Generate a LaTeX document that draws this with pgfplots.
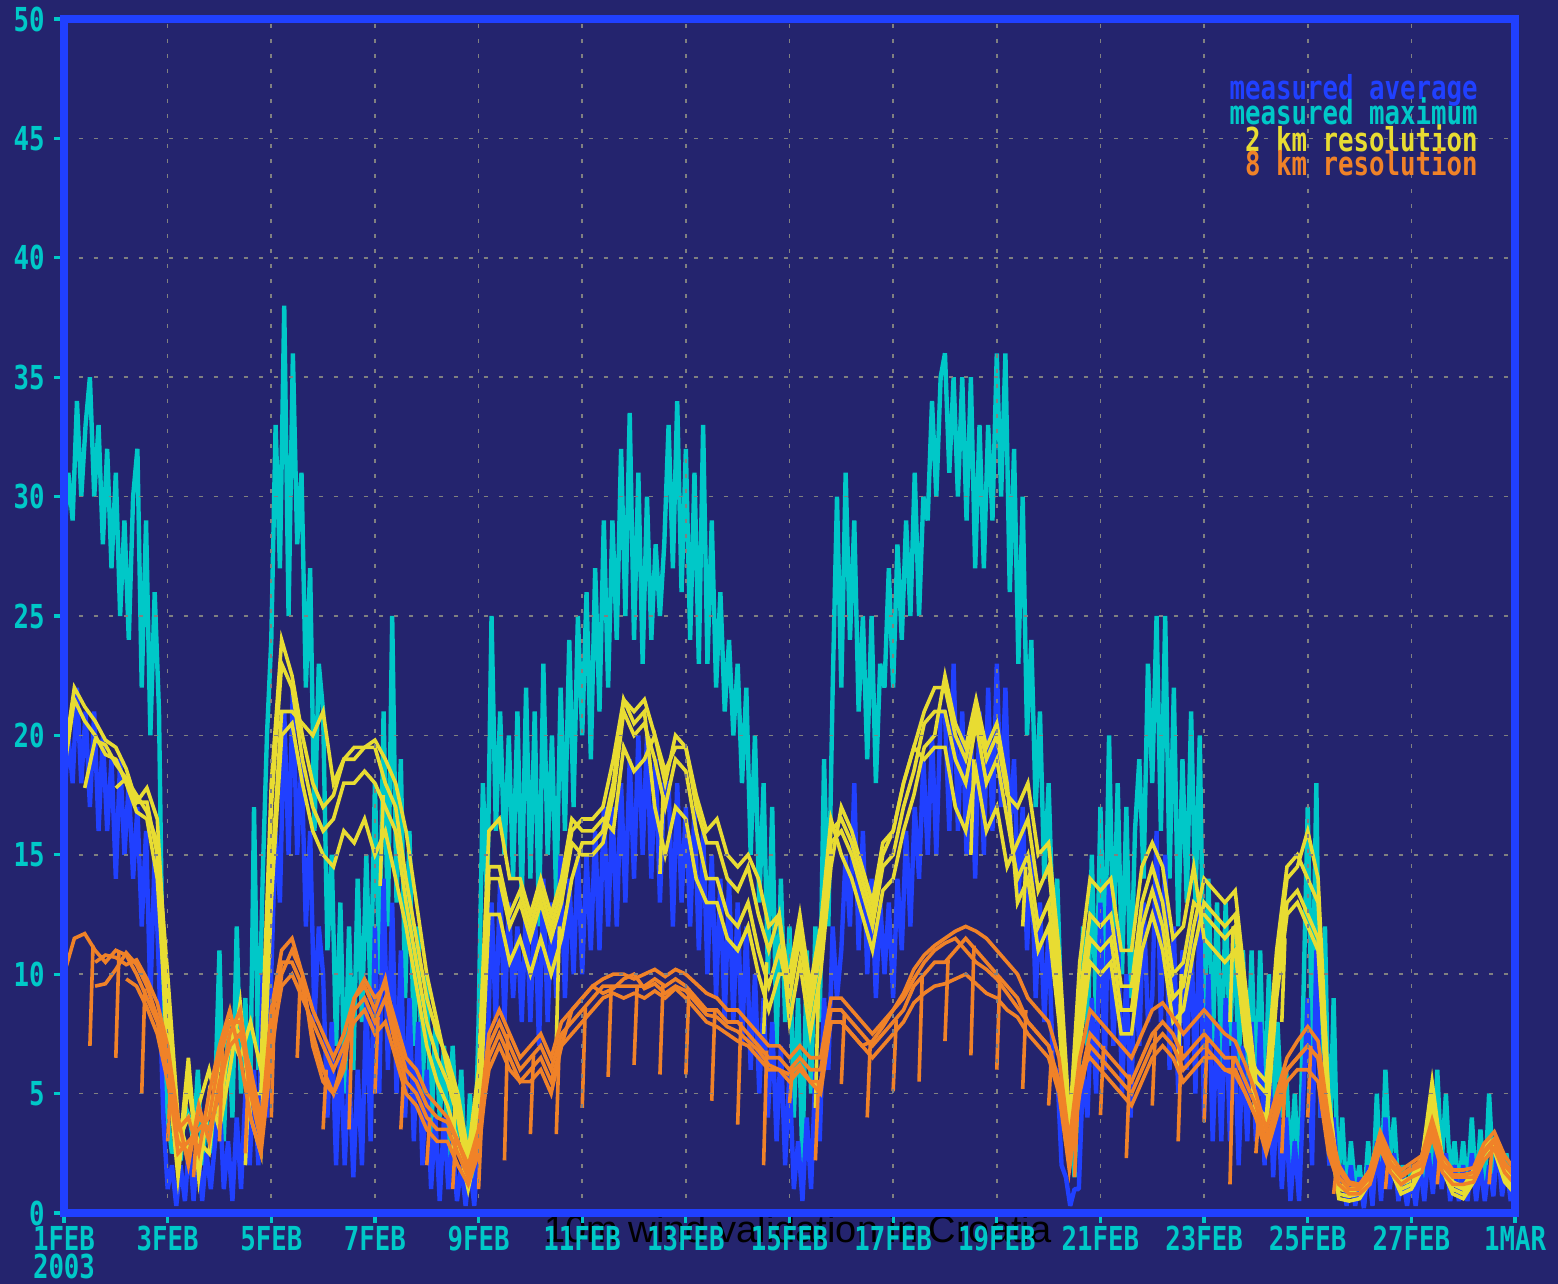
\documentclass[border=0pt]{standalone}
\usepackage{fontspec}
\usepackage{pgfplots}
\usepackage{pgfplotstable}
\pgfplotsset{compat=1.18}
\setmainfont{Liberation Sans}
\newfontfamily\pix{DejaVu Sans Mono}[FakeStretch=0.78]
\newcommand\pixf{\pix\bfseries\fontsize{16.5}{14}\selectfont}
\definecolor{bg}{HTML}{24246E}
\definecolor{fblue}{HTML}{2040FF}
\definecolor{cyn}{HTML}{00C8C8}
\definecolor{ylw}{HTML}{E8DC32}
\definecolor{org}{HTML}{F08228}
\definecolor{gridgray}{HTML}{808080}

% measured maximum (c) and measured average (b), every 2 hours from 1 FEB 00h
\pgfplotstableread[row sep=\\]{
c b\\
28 17\\ 31 20\\ 29 18\\ 34 22\\ 30 18\\ 33 21\\ 35 17\\ 30 21\\ 33 16\\ 28 20\\ 32 16\\ 27 19\\
31 14\\ 25 19\\ 29 15\\ 24 18\\ 30 14\\ 32 17\\ 22 12\\ 29 16\\ 20 9\\ 26 15\\ 21 10\\ 8 4\\
4 1\\ 2.5 2\\ 3 0.3\\ 2.2 2\\ 4.5 0.5\\ 4 3\\ 3 0.5\\ 6 3\\ 2 0.5\\ 4 2.5\\ 2.5 1\\ 5 3\\
11 5\\ 3 1\\ 8 3\\ 4 0.5\\ 12 4\\ 5 1\\ 9 5\\ 3 2\\ 17 6\\ 6 2\\ 14 10\\ 20 4\\
24 10\\ 33 16\\ 27 13\\ 38 21\\ 25 15\\ 36 22\\ 28 15\\ 31 19\\ 22 12\\ 27 16\\ 16 8\\ 23 12\\
21 10\\ 11 4\\ 15 8\\ 7 2\\ 13 7\\ 5 2\\ 12 6\\ 6 1.5\\ 14 6\\ 8 2\\ 15 9\\ 9 3\\
18 12\\ 10 5\\ 21 14\\ 12 6\\ 25 13\\ 13 5\\ 19 11\\ 9 4\\ 16 9\\ 7 3\\ 12 8\\ 5 2\\
10 6\\ 3 1\\ 8 4\\ 4 0.5\\ 7 4\\ 2 1\\ 7 3\\ 3 0.5\\ 6 2\\ 1 0.3\\ 5 2\\ 1 0.3\\
8 3\\ 18 8\\ 13 6\\ 25 13\\ 16 8\\ 21 14\\ 15 8\\ 20 13\\ 14 9\\ 21 12\\ 13 8\\ 22 13\\
14 8\\ 21 13\\ 12 7\\ 23 14\\ 15 8\\ 20 13\\ 13 9\\ 22 15\\ 16 9\\ 24 14\\ 17 10\\ 25 15\\
20 10\\ 26 15\\ 19 11\\ 27 16\\ 21 11\\ 29 17\\ 22 12\\ 29 17\\ 24 12\\ 32 18\\ 25 13\\ 33.5 19\\
24 14\\ 31 20\\ 23 15\\ 30 20\\ 24 14\\ 28 19\\ 25 13\\ 28 18\\ 33 18\\ 27 12\\ 34 18\\ 26 13\\
32 17\\ 24 12\\ 31 17\\ 23 11\\ 33 16\\ 23 10\\ 29 15\\ 22 9\\ 26 14\\ 21 8\\ 24 14\\ 20 8\\
23 13\\ 18 7\\ 22 12\\ 15 6\\ 20 10\\ 13 5\\ 18 9\\ 10 4\\ 17 8\\ 7 3\\ 14 7\\ 8 2\\
12 6\\ 4 1\\ 9 3\\ 2 0.5\\ 11 4\\ 5 1\\ 12 6\\ 8 3\\ 19 9\\ 12 6\\ 22 12\\ 30 9\\
22 11\\ 31 15\\ 24 12\\ 29 18\\ 21 11\\ 25 16\\ 19 10\\ 25 14\\ 18 9\\ 23 13\\ 22 10\\ 27 13\\
22 9\\ 28 14\\ 24 11\\ 29 16\\ 25 12\\ 31 17\\ 25 14\\ 30 19\\ 29 15\\ 34 20\\ 30 15\\ 35 21\\
36 21\\ 31 16\\ 35 23\\ 30 16\\ 35 21\\ 29 15\\ 35 20\\ 27 14\\ 33 21\\ 27 15\\ 33 22\\ 29 16\\
36 23\\ 30 17\\ 36 22\\ 26 16\\ 32 19\\ 23 13\\ 30 17\\ 20 11\\ 24 15\\ 17 9\\ 21 13\\ 14 8\\
18 12\\ 12 6\\ 14 6\\ 8 2\\ 3 1.5\\ 4 0.3\\ 1.5 1\\ 6 1\\ 12 6\\ 7 4\\ 15 9\\ 8 5\\
17 13\\ 10 6\\ 20 14\\ 11 7\\ 18 12\\ 10 5\\ 17 10\\ 9 4\\ 16 10\\ 19 7\\ 14 13\\ 23 8\\
18 9\\ 25 16\\ 16 8\\ 25 15\\ 14 6\\ 22 12\\ 12 5\\ 19 11\\ 13 6\\ 21 12\\ 13 5\\ 20 13\\
8 4\\ 14 10\\ 7 3\\ 13 8\\ 6 3\\ 13 9\\ 7 3\\ 12 8\\ 6 2\\ 11 7\\ 5 3\\ 11 8\\
5 3\\ 11 8\\ 4 2\\ 10 7\\ 3 1.5\\ 8 5\\ 4 1\\ 6 4\\ 2 0.5\\ 5 3\\ 1 0.5\\ 9 5\\
17 9\\ 7 2\\ 18 11\\ 4 4\\ 12 7\\ 2 2\\ 9 4\\ 1 1\\ 4 2\\ 0.5 0.3\\ 3 2\\ 1 0.3\\
2 1.5\\ 0.3 0.2\\ 3 2\\ 0.5 0.3\\ 5 3\\ 1 0.5\\ 6 4\\ 2 1\\ 4 2.5\\ 1 0.5\\ 2 1.5\\ 0.5 0.3\\
2 1.5\\ 0.5 0.3\\ 2 2\\ 1 0.5\\ 4 2.5\\ 1 0.8\\ 6 3.5\\ 2 1\\ 5 2.5\\ 1.5 0.5\\ 3 2\\ 1 0.5\\
3 2\\ 1 0.5\\ 4 2.5\\ 1 0.5\\ 3.5 2\\ 1 0.5\\ 5 2\\ 1.5 0.7\\ 3 3\\ 1 0.7\\ 2.5 2\\ 1 0.5\\
2 1.5\\
}\tabCB

% 2 km model runs
\pgfplotstableread{
t y1 y2 y3 y4
0.0 19 nan 18.5 nan
0.2 22 nan 21.5 nan
0.4 21.2 17.8 20.6 nan
0.6 20.6 19.8 20 nan
0.8 19.8 19.6 19.2 nan
1.0 19.5 18.8 19 17.8
1.2 18.6 18.2 18 18.2
1.4 17.2 17.2 16.8 17.5
1.6 17.2 17.8 16.5 16.8
1.8 15 16.5 14 15.5
2.0 6 9 7 10
2.2 1.5 3 2 4
2.4 5.5 4 6.5 2.5
2.6 2 3 1.5 4.5
2.8 4.5 2.5 5 6
3.0 5 6.5 3.5 4
3.2 7 8 6 7.5
3.4 8.5 7.5 8.8 6.5
3.6 5 6 4 8
3.8 5 3 2.5 6
4.0 17 14 13 18
4.2 23 21 20 24
4.4 22 21 20.5 22.5
4.6 19 20.5 18 20
4.8 17 20 16 18
5.0 16 21 15 17
5.2 16.5 18 14.5 17.5
5.4 18 19 16 19
5.6 18 19.5 15.5 19
5.8 18.5 19.5 16.5 19.5
6.0 18 19.5 15 19.8
6.2 17 18 16 19
6.4 16 17 14 18
6.6 13 14 12 16
6.8 10.5 11.5 9.5 13
7.0 8 9 7 10
7.2 6.5 7.5 5.5 8
7.4 5.5 6.5 4.5 6
7.6 4 5 3 4.5
7.8 1.5 2.5 1 2
8.0 4 6 3 5
8.2 14 16 12.5 14.5
8.4 14 16.5 12.5 14.5
8.6 12 14 10.5 12.5
8.8 13 14 11.5 13.5
9.0 11.5 12.5 10 12
9.2 13 14 11.5 13.5
9.4 11.5 12.5 10 12
9.6 13 14 11.5 13.5
9.8 15.5 16.5 14 16
10.0 15 16 15.5 16.5
10.2 15 16 15.5 16.5
10.4 15.5 16.5 16 17
10.6 17.5 16 18 19
10.8 21 19.5 21.5 21.5
11.0 20 18.5 20.5 21
11.2 20.5 19 21 21.5
11.4 19 20 17 20
11.6 17 18 15 18.5
11.8 19 20 17 19.5
12.0 18.5 19.5 16.5 19.5
12.2 16 17 14 17.5
12.4 14 15.5 13 16
12.6 14 15.5 13 16.5
12.8 12.5 14 11.5 15
13.0 12 13.5 11 14.5
13.2 13 14.5 12 15
13.4 11 12.5 10 14
13.6 9.5 11 8.5 12
13.8 11 12.5 10 12.5
14.0 9 8 10 9.5
14.2 11.5 10.5 12.5 12
14.4 8.5 7.5 9.5 9
14.6 11 10 12 11.5
14.8 15.5 14.5 16.5 16
15.0 16 17 15 16.5
15.2 15 16 14 15.5
15.4 13.5 14.5 12.5 14
15.6 12 13 11 12.5
15.8 14.5 15.5 13.5 15
16.0 15 16 14 16
16.2 17 18 16 18
16.4 18.5 19.5 17.5 19.5
16.6 20.5 19 19.5 21
16.8 21 19.5 20 22
17.0 21 19.5 22.5 22
17.2 19 17 20.5 20
17.4 18 16 19.5 19
17.6 20.5 18.5 21.5 21
17.8 18 16 19.5 19
18.0 19 17 20.5 20
18.2 16.5 14.5 18 17.5
18.4 14 15.5 13 17
18.6 15 16.5 14 18
18.8 12 13.5 11 15
19.0 13 14.5 12 15.5
19.2 9 10 8 11
19.4 2.5 3.5 2 4
19.6 9 10.5 7 8
19.8 12.5 14 10.5 11.5
20.0 12 13.5 10 11
20.2 12.5 14 10.5 11.5
20.4 9.5 11 7.5 8.5
20.6 9.5 11 7.5 8.5
20.8 13 14.5 11 12
21.0 14.5 15.5 12.5 13.5
21.2 13 14.5 11 12
21.4 10 11.5 8 9
21.6 10.5 12 8.5 9.5
21.8 13 14.5 11 12
22.0 12.5 11.5 13 14
22.2 12 11 12.5 13.5
22.4 11.5 10.5 12 13
22.6 12 11 12.5 13.5
22.8 8 7 8.5 9.5
23.0 4 6 4.5 5.5
23.2 3.5 5.5 4 5
23.4 9 11 9.5 10.5
23.6 12.5 14.5 13 14
23.8 13 15 13.5 14.5
24.0 12 14 12.5 16
24.2 11 13 11.5 14
24.4 4 5 3.5 5
24.6 0.8 1.2 0.6 1
24.8 0.7 1 0.5 0.9
25.0 0.8 1.1 0.6 1
25.2 1.5 1.8 1.3 1.7
25.4 3 3.3 2.8 3.2
25.6 2 2.3 1.8 2.2
25.8 1 1.3 0.8 1.2
26.0 1.2 1.5 1 1.4
26.2 2 2.3 1.8 2.2
26.4 4.5 4.8 4.3 5.5
26.6 2 2.3 1.8 2.2
26.8 1 1.3 0.8 1.2
27.0 0.8 1.1 0.6 1
27.2 1.5 1.8 1.3 1.7
27.4 2.5 2.8 2.3 2.7
27.6 2.8 3.1 2.6 3
27.8 1.5 1.8 1.3 1.7
28.0 1 1.3 0.8 1.2
}\tabY

% 8 km model runs
\pgfplotstableread{
t o1 o2 o3 o4
0.0 10 nan nan nan
0.2 11.5 nan nan nan
0.4 11.7 nan nan nan
0.6 11 10.5 9.5 nan
0.8 10.5 10.8 9.6 nan
1.0 11 10.7 10.2 nan
1.2 10.8 10.4 10.9 9.8
1.4 10 10.6 10.4 9.5
1.6 9 9.8 9.5 8.6
1.8 8 8.8 8.2 7.5
2.0 6 7 6.5 5.5
2.2 2.5 4 3.5 3
2.4 3 2 4 2.5
2.6 3.5 4.5 2.5 4
2.8 4 3 5 3.5
3.0 6.5 5.5 7 5
3.2 8 7 8.5 7.5
3.4 8 7.5 6.5 8.5
3.6 5 6 4 5.5
3.8 3 4 2.5 3.5
4.0 8 7 6.5 8.5
4.2 10.5 9.5 10 11
4.4 10.5 10 11 11.5
4.6 9.5 9 10 10
4.8 7.5 8 8.5 7
5.0 6 7 7.5 5.5
5.2 5 6 6.5 5
5.4 6.5 7 7.5 6
5.6 8.5 8 9 9
5.8 9 8.5 9.8 9.5
6.0 8 7.5 9 8.5
6.2 9 8 9.5 9.8
6.4 7 6.5 8 7.5
6.6 5.5 5 6.5 6
6.8 5 4.5 6 5.5
7.0 4 3.5 5 4.5
7.2 3.5 3 4.5 4
7.4 3.5 3 4 3.8
7.6 2.5 2 3 3
7.8 1.5 1.2 2 1.8
8.0 3 2.5 3.5 3.2
8.2 7 6.5 7.5 6
8.4 8 7.5 8.5 7
8.6 7 6.5 7.5 6
8.8 6 5.5 6.5 5.5
9.0 6.5 6 7 5.5
9.2 7 6.5 7.5 6
9.4 6 5.5 6.5 5
9.6 7.5 7 8 7
9.8 8 7.5 8.5 8.5
10.0 8.5 8 9 9
10.2 9 8.5 9.5 9.5
10.4 9.5 9 9.8 9.2
10.6 9.5 9.2 10 9.4
10.8 9.5 9 10 9.8
11.0 9.5 9.2 9.8 10
11.2 9.5 9 10 9.4
11.4 9.8 9.3 10.2 9.6
11.6 9.5 9 9.9 9.2
11.8 9.8 9.4 10.2 9.5
12.0 9.5 9 10 9.3
12.2 9 8.5 9.6 8.8
12.4 8.5 8 9.2 8.3
12.6 8.5 7.8 9 8.2
12.8 8 7.5 8.5 7.8
13.0 8 7.2 8.5 7.6
13.2 7.5 7 8 7.2
13.4 7 6.5 7.5 6.8
13.6 6.5 6 7 6.2
13.8 6.5 6 7 6
14.0 6 5.5 6.5 5.8
14.2 6.5 6 7 6.2
14.4 6 5.5 6.5 5.5
14.6 6 5 6.5 5.5
14.8 8.5 8 9 8
15.0 8.5 8 9 8
15.2 8 7.5 8.5 7.5
15.4 7.5 7 8 7
15.6 7 6.5 7.5 7.2
15.8 7.5 7 8 7.8
16.0 8 7.5 8.5 8.5
16.2 8.5 8 9.2 9
16.4 9.5 8.8 10.2 9.8
16.6 10 9.2 10.8 10.5
16.8 10.5 9.5 11.2 11
17.0 10.5 9.6 11.5 11.3
17.2 11 9.8 11.8 11.5
17.4 11.5 10 12 11
17.6 11 9.6 11.8 10.5
17.8 10.5 9.2 11.5 10.2
18.0 10 9 11 9.8
18.2 9.5 8.5 10.5 9.2
18.4 9 8.2 10 8.6
18.6 8 7.5 9 8
18.8 7.5 7 8.5 7.5
19.0 7 6.5 8 7
19.2 5.5 5 6.5 5.5
19.4 2 1.8 3 2.5
19.6 5.5 5 6.5 6
19.8 7.5 7 8.5 6.5
20.0 7 6.5 8 6
20.2 6.5 6 7.5 5.5
20.4 6 5.5 7 5
20.6 5.5 5 6.5 4.5
20.8 6.5 6 7.5 5.5
21.0 7.5 7 8.5 6.5
21.2 8 7.5 8.8 7
21.4 7.5 7 8.2 6.5
21.6 6.5 6 7.5 5.5
21.8 7 6.5 8 6
22.0 7.5 7 8.5 6.5
22.2 7 6.5 8 6.5
22.4 6.5 6 7.5 6
22.6 6.5 6 7.2 5.8
22.8 5.5 5 6.2 5
23.0 4.5 4 5 4
23.2 3 2.5 3.5 2.8
23.4 4.5 4 5 4.5
23.6 6 5.5 6.5 6
23.8 6.5 6 7.2 6.5
24.0 7 6 7.8 7
24.2 6.5 5.5 7.2 6.5
24.4 3 2.5 4 3.5
24.6 1.5 1.2 2 1.8
24.8 1 0.8 1.3 1.2
25.0 1 0.8 1.2 1.1
25.2 1.5 1.2 1.8 1.6
25.4 3 2.7 3.4 3.1
25.6 2 1.7 2.4 2.1
25.8 1.5 1.2 1.8 1.6
26.0 1.8 1.5 2.1 1.9
26.2 2 1.7 2.4 2.2
26.4 3.5 3.2 3.9 3.6
26.6 2 1.7 2.4 2.1
26.8 1.5 1.2 1.8 1.6
27.0 1.5 1.2 1.8 1.6
27.2 1.5 1.3 1.9 1.7
27.4 2.5 2.2 2.9 2.6
27.6 3 2.7 3.4 3.1
27.8 2 1.7 2.4 2.1
28.0 1.5 1.2 1.8 1.6
}\tabO

\begin{document}
\begin{tikzpicture}
\useasboundingbox (0,0) rectangle (779pt,642pt);
\fill[bg] (0,0) rectangle (779pt,642pt);
\node[anchor=base, inner sep=0pt, text=black, font=\fontsize{19}{19}\selectfont] at (399pt,20.5pt) {10m wind validation in Croatia};
\begin{axis}[
  name=ax,
  at={(32pt,35.5pt)}, anchor=south west,
  scale only axis, width=725.5pt, height=597pt,
  xmin=0, xmax=28, ymin=0, ymax=50,
  axis on top,
  axis line style={fblue, line width=4pt},
  xtick={0,2,...,28},
  xticklabels={{1FEB\\2003},3FEB,5FEB,7FEB,9FEB,11FEB,13FEB,15FEB,17FEB,19FEB,21FEB,23FEB,25FEB,27FEB,1MAR},
  ytick={0,5,...,50},
  yticklabels={0,5,10,15,20,25,30,35,40,45,50},
  tick pos=left,
  tick align=outside,
  major tick length=5pt,
  tick style={cyn, line width=1.6pt},
  grid=major,
  major grid style={gridgray, line width=0.8pt, dash pattern=on 2pt off 5.5pt},
  xticklabel style={font=\pixf, text=cyn, align=center, inner sep=0pt, anchor=north, yshift=-1.5pt},
  yticklabel style={font=\pixf, text=cyn, inner sep=0pt, anchor=east, xshift=-4.5pt},
  unbounded coords=jump,
]
\addplot[cyn, line width=2.2pt, line join=bevel, no markers] table[x expr=\coordindex/12, y=c] {\tabCB};
\addplot[fblue, line width=2.2pt, line join=bevel, no markers] table[x expr=\coordindex/12, y=b] {\tabCB};
\addplot[ylw, line width=1.8pt, no markers] table[x=t, y=y1] {\tabY};
\addplot[ylw, line width=1.8pt, no markers] table[x=t, y=y2] {\tabY};
\addplot[ylw, line width=1.8pt, no markers] table[x=t, y=y3] {\tabY};
\addplot[ylw, line width=1.8pt, no markers] table[x=t, y=y4] {\tabY};
\addplot[ylw, line width=1.8pt, no markers] coordinates {
(3.5,2)(3.56,5)(3.6,nan)
(6.1,13.7)(6.16,17.5)(6.2,nan)
(7.5,2.5)(7.56,5)(7.6,nan)
(9.5,7.1)(9.56,12)(9.6,nan)
(11.5,14.2)(11.56,17.5)(11.6,nan)
(13.5,7.5)(13.56,10.5)(13.6,nan)
(14.5,4.4)(14.56,9.5)(14.6,nan)
(17.5,15)(17.56,19)(17.6,nan)
(18.5,12)(18.56,14.5)(18.6,nan)
(21.5,6)(21.56,10)(21.6,nan)
(22.5,8)(22.56,12)(22.6,nan)
(23.5,8)(23.56,11.5)
};
\addplot[org, line width=1.8pt, no markers] table[x=t, y=o1] {\tabO};
\addplot[org, line width=1.8pt, no markers] table[x=t, y=o2] {\tabO};
\addplot[org, line width=1.8pt, no markers] table[x=t, y=o3] {\tabO};
\addplot[org, line width=1.8pt, no markers] table[x=t, y=o4] {\tabO};
\addplot[org, line width=1.8pt, no markers] coordinates {
(0.5,7)(0.56,11.2)(0.6,nan)
(1,6.5)(1.06,10.9)(1.1,nan)
(1.5,5)(1.56,9.4)(1.6,nan)
(2,3)(2.06,5.5)(2.1,nan)
(2.5,1.5)(2.56,3.5)(2.6,nan)
(3,3)(3.06,6.8)(3.1,nan)
(3.5,2.5)(3.56,6)(3.6,nan)
(4,4)(4.06,8.5)(4.1,nan)
(4.5,6.5)(4.56,9.8)(4.6,nan)
(5,3.5)(5.06,6)(5.1,nan)
(5.5,3.5)(5.56,8)(5.6,nan)
(6,5)(6.06,8.2)(6.1,nan)
(6.5,3.5)(6.56,6)(6.6,nan)
(7,2)(7.06,4)(7.1,nan)
(7.5,1)(7.56,3.2)(7.6,nan)
(8,1)(8.06,4)(8.1,nan)
(8.5,2.2)(8.56,7.5)(8.6,nan)
(9,3.3)(9.06,6.6)(9.1,nan)
(9.5,3.3)(9.56,7.2)(9.6,nan)
(10,4.4)(10.06,8.6)(10.1,nan)
(10.5,5.7)(10.56,9.5)(10.6,nan)
(11,6.2)(11.06,9.5)(11.1,nan)
(11.5,5.8)(11.56,9.6)(11.6,nan)
(12,5.8)(12.06,9.4)(12.1,nan)
(12.5,4.7)(12.56,8.5)(12.6,nan)
(13,3.7)(13.06,8)(13.1,nan)
(13.5,2)(13.56,6.8)(13.6,nan)
(14,4.6)(14.06,6.1)(14.1,nan)
(14.5,2.2)(14.56,5.5)(14.6,nan)
(15,5.4)(15.06,8.4)(15.1,nan)
(15.5,4)(15.56,7.2)(15.6,nan)
(16,5.1)(16.06,8.1)(16.1,nan)
(16.5,5.5)(16.56,9.9)(16.6,nan)
(17,7.2)(17.06,10.6)(17.1,nan)
(17.5,6.6)(17.56,11.2)(17.6,nan)
(18,6)(18.06,9.9)(18.1,nan)
(18.5,5.2)(18.56,8.5)(18.6,nan)
(19,4.5)(19.06,6.8)(19.1,nan)
(19.5,1.5)(19.56,4.5)(19.6,nan)
(20,4.1)(20.06,7)(20.1,nan)
(20.5,2.3)(20.56,5.8)(20.6,nan)
(21,4.5)(21.06,7.6)(21.1,nan)
(21.5,3)(21.56,7)(21.6,nan)
(22,3.8)(22.06,7.4)(22.1,nan)
(22.5,1.2)(22.56,6.5)(22.6,nan)
(23,2.5)(23.06,4.3)(23.1,nan)
(23.5,2.5)(23.56,5.5)(23.6,nan)
(24,4)(24.06,7)(24.1,nan)
(24.5,0.8)(24.56,2)(24.6,nan)
(25.5,1)(25.56,2.5)(25.6,nan)
(26.5,1.2)(26.56,2.8)(26.6,nan)
(27.5,1.2)(27.56,2.8)
};
\end{axis}
\node[anchor=base east, inner sep=0pt, text=fblue, font=\pixf] at (739pt,592pt) {measured average};
\node[anchor=base east, inner sep=0pt, text=cyn, font=\pixf] at (739pt,579.5pt) {measured maximum};
\node[anchor=base east, inner sep=0pt, text=ylw, font=\pixf] at (739pt,566pt) {2 km resolution};
\node[anchor=base east, inner sep=0pt, text=org, font=\pixf] at (739pt,554pt) {8 km resolution};
\end{tikzpicture}
\end{document}
